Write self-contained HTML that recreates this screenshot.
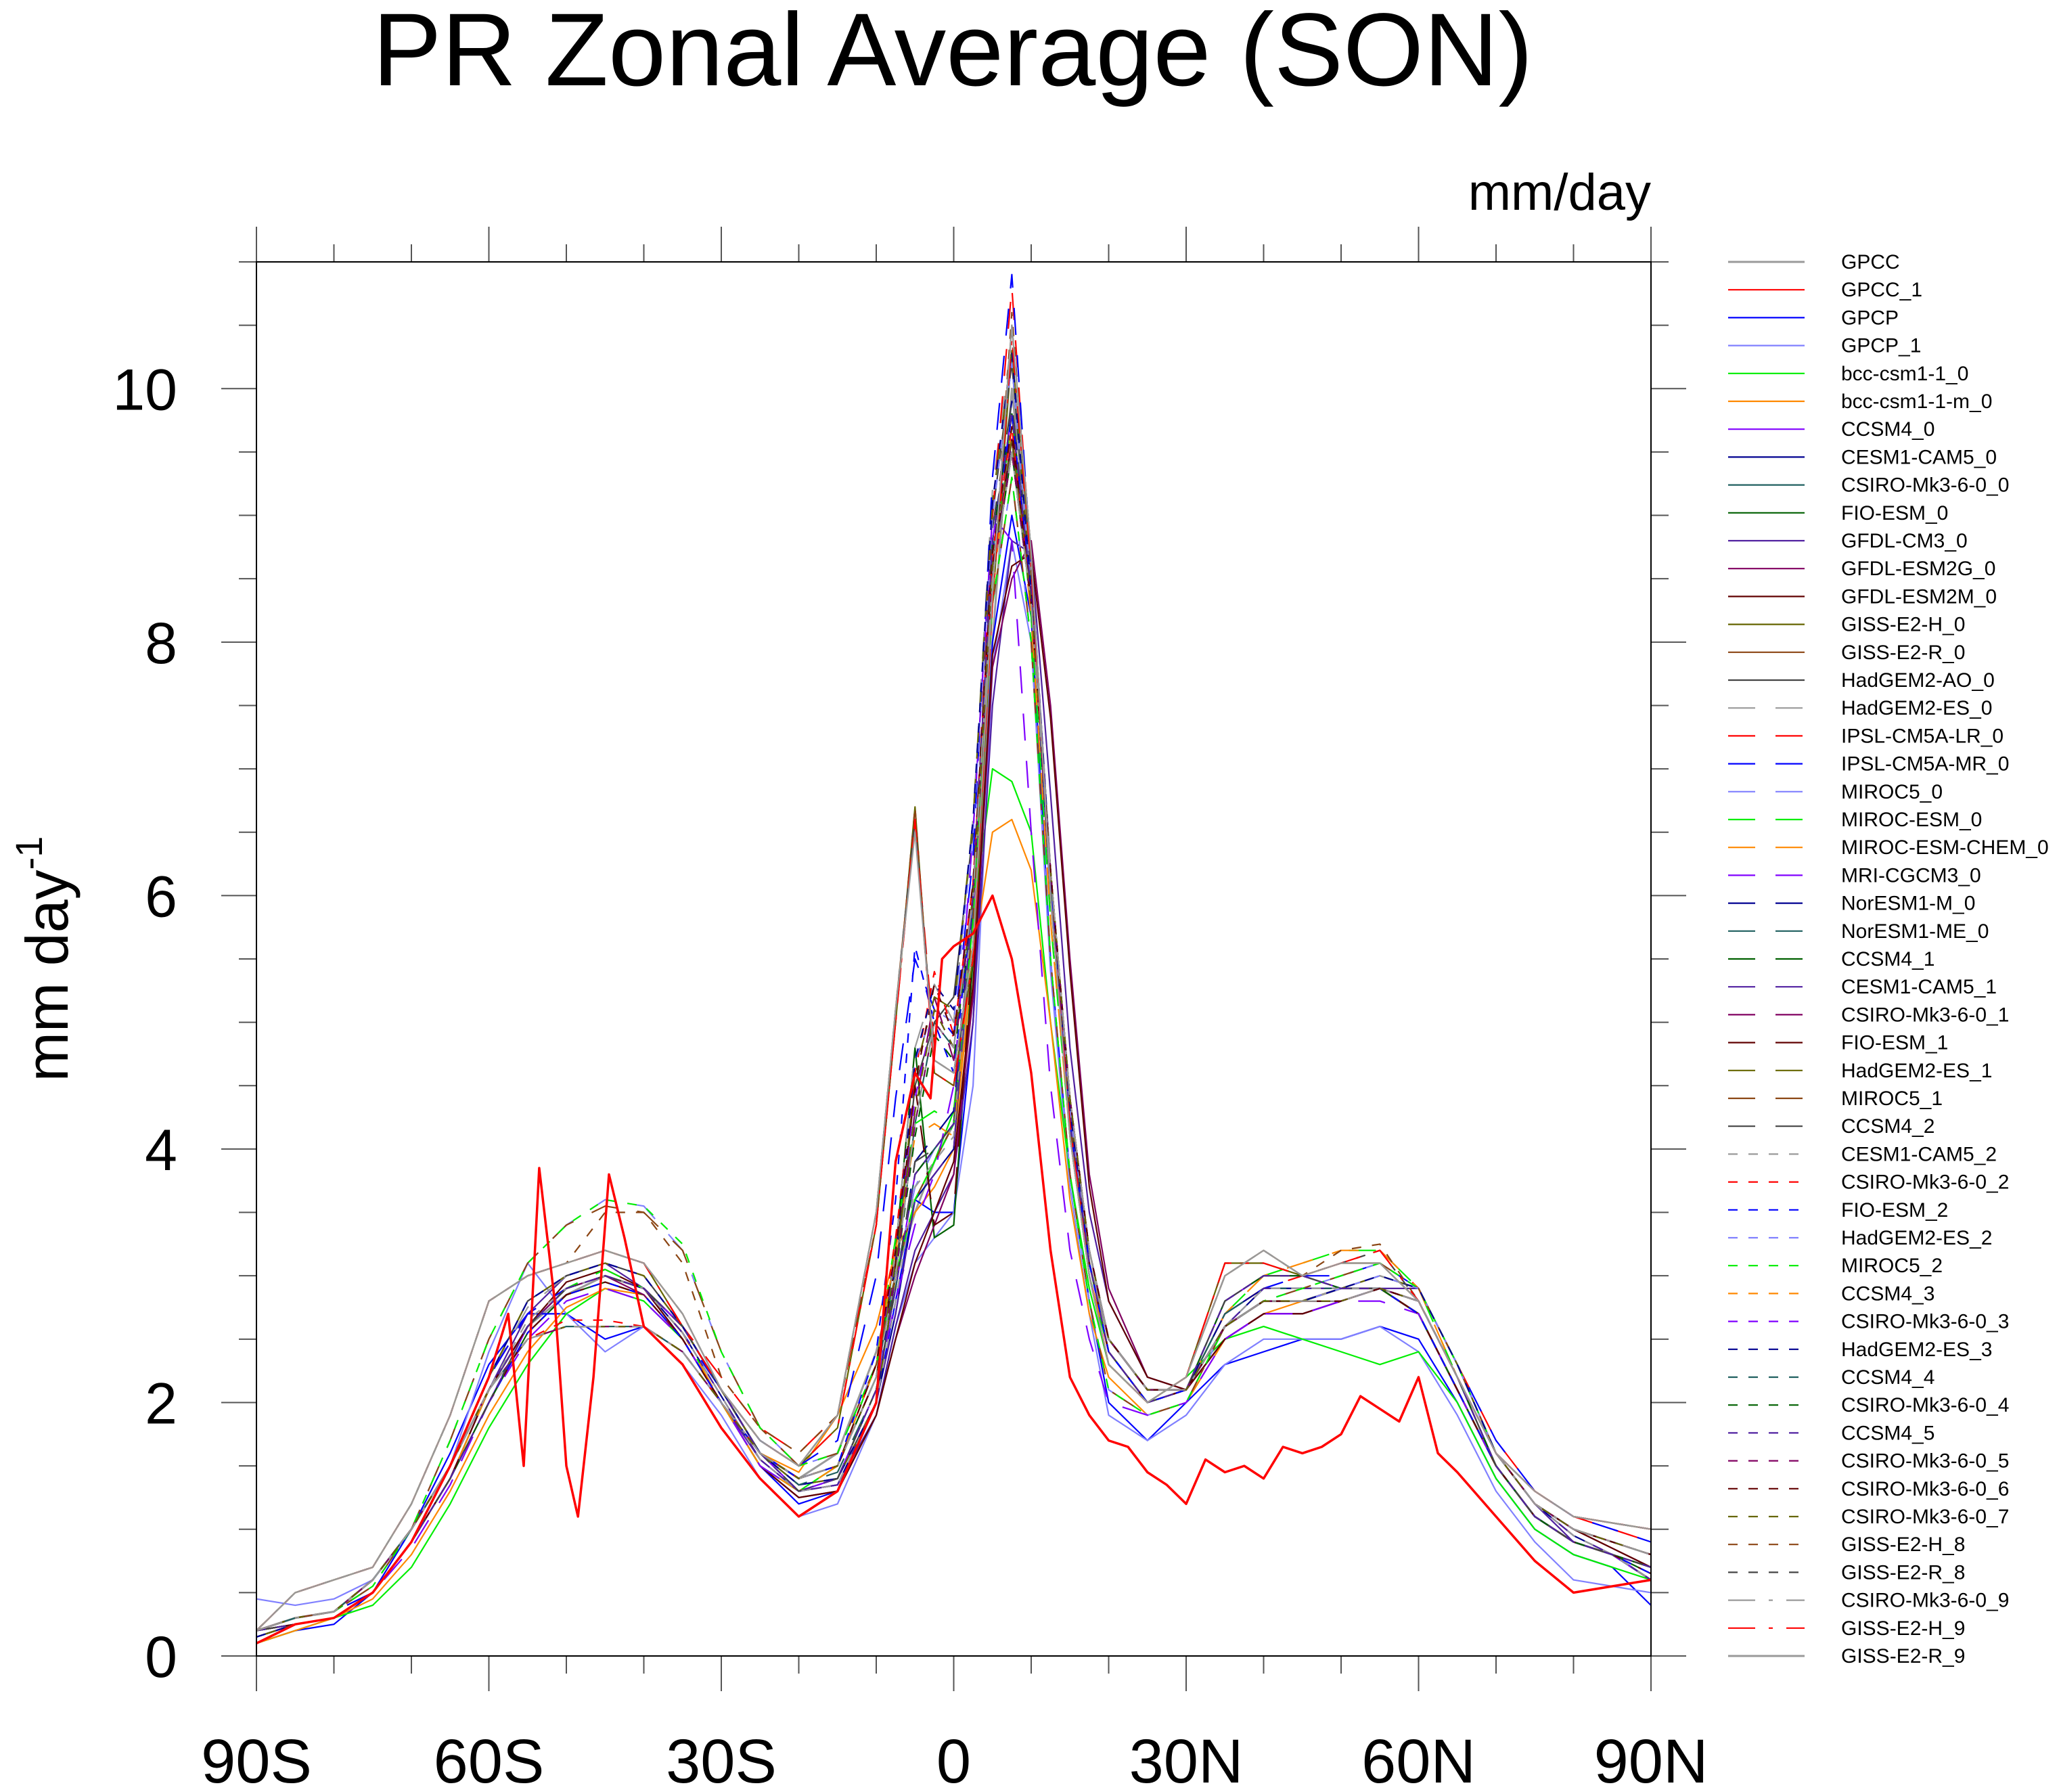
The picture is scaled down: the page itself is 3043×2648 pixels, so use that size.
<!DOCTYPE html>
<html><head><meta charset="utf-8"><style>
html,body{margin:0;padding:0;background:#fff}
svg{display:block}
text{font-family:"Liberation Sans",Arial,sans-serif;fill:#000}
</style></head><body>
<svg id="chart" width="3043" height="2648" viewBox="0 0 3043 2648" xmlns="http://www.w3.org/2000/svg">
<text x="1408" y="126" font-size="153" text-anchor="middle">PR Zonal Average (SON)</text>
<text x="2440" y="310" font-size="76" text-anchor="end">mm/day</text>
<text transform="translate(100,1417) rotate(-90)" font-size="88" text-anchor="middle">mm day<tspan font-size="56" dy="-38">-1</tspan></text>
<g id="ticks"></g>
<g id="series"></g>
<rect x="379" y="387" width="2061" height="2060" fill="none" stroke="#000" stroke-width="2"/>
<g id="legend"></g>
</svg>
<script>
const lats=[-90,-85,-80,-75,-70,-65,-60,-55,-50,-45,-40,-35,-30,-25,-20,-15,-10,-7.5,-5,-2.5,0,2.5,5,7.5,10,12.5,15,17.5,20,25,30,35,40,45,50,55,60,65,70,75,80,85,90];
const seriesNames=["GPCC","GPCC_1","GPCP","GPCP_1","bcc-csm1-1_0","bcc-csm1-1-m_0","CCSM4_0","CESM1-CAM5_0","CSIRO-Mk3-6-0_0","FIO-ESM_0","GFDL-CM3_0","GFDL-ESM2G_0","GFDL-ESM2M_0","GISS-E2-H_0","GISS-E2-R_0","HadGEM2-AO_0","HadGEM2-ES_0","IPSL-CM5A-LR_0","IPSL-CM5A-MR_0","MIROC5_0","MIROC-ESM_0","MIROC-ESM-CHEM_0","MRI-CGCM3_0","NorESM1-M_0","NorESM1-ME_0","CCSM4_1","CESM1-CAM5_1","CSIRO-Mk3-6-0_1","FIO-ESM_1","HadGEM2-ES_1","MIROC5_1","CCSM4_2","CESM1-CAM5_2","CSIRO-Mk3-6-0_2","FIO-ESM_2","HadGEM2-ES_2","MIROC5_2","CCSM4_3","CSIRO-Mk3-6-0_3","HadGEM2-ES_3","CCSM4_4","CSIRO-Mk3-6-0_4","CCSM4_5","CSIRO-Mk3-6-0_5","CSIRO-Mk3-6-0_6","CSIRO-Mk3-6-0_7","GISS-E2-H_8","GISS-E2-R_8","CSIRO-Mk3-6-0_9","GISS-E2-H_9","GISS-E2-R_9"];
const latsGPCC1=[-90,-85,-80,-75,-70,-65,-60,-57.5,-55.5,-53.5,-51.5,-50,-48.5,-46.5,-44.5,-42.5,-40,-35,-30,-25,-20,-15,-10,-7.5,-5,-3,-1.5,0,2.5,5,7.5,10,12.5,15,17.5,20,22.5,25,27.5,30,32.5,35,37.5,40,42.5,45,47.5,50,52.5,55,57.5,60,62.5,65,70,75,80,85,90];
const valsGPCC1=[0.1,0.25,0.3,0.5,0.9,1.5,2.2,2.7,1.5,3.85,2.8,1.5,1.1,2.2,3.8,3.3,2.6,2.3,1.8,1.4,1.1,1.3,2.0,3.9,4.6,4.4,5.5,5.6,5.7,6.0,5.5,4.6,3.2,2.2,1.9,1.7,1.65,1.45,1.35,1.2,1.55,1.45,1.5,1.4,1.65,1.6,1.65,1.75,2.05,1.95,1.85,2.2,1.6,1.45,1.1,0.75,0.5,0.55,0.6];
const values=[
[0.2,0.3,0.35,0.6,1.0,1.5,2.1,2.6,2.85,3.0,2.9,2.6,2.1,1.6,1.4,1.6,2.4,3.0,3.5,3.9,4.2,5.5,8.0,10.0,8.5,6.0,4.2,3.1,2.5,2.1,2.1,2.6,2.8,2.8,2.9,2.9,2.7,2.1,1.5,1.1,0.9,0.8,0.6],
null,
[0.1,0.2,0.25,0.5,1.0,1.6,2.3,2.7,2.7,2.5,2.6,2.4,2.0,1.5,1.2,1.3,2.0,2.8,3.6,3.5,3.5,5.0,8.0,9.0,8.2,5.5,3.8,2.8,2.0,1.7,2.0,2.3,2.4,2.5,2.5,2.6,2.5,2.0,1.4,1.0,0.8,0.7,0.4],
[0.45,0.4,0.45,0.6,1.0,1.5,2.4,3.1,2.7,2.4,2.6,2.3,1.9,1.4,1.1,1.2,1.9,2.6,3.1,3.3,3.5,4.5,7.8,8.8,8.0,5.4,3.7,2.7,1.9,1.7,1.9,2.3,2.5,2.5,2.5,2.6,2.4,1.9,1.3,0.9,0.6,0.55,0.5],
[0.1,0.2,0.3,0.4,0.7,1.2,1.8,2.3,2.7,2.9,2.8,2.5,2.0,1.5,1.3,1.5,2.3,3.0,3.6,3.9,4.3,5.8,7.0,6.9,6.5,5.0,3.8,2.9,2.3,2.0,2.2,2.5,2.6,2.5,2.4,2.3,2.4,2.0,1.4,1.0,0.8,0.7,0.6],
[0.1,0.2,0.3,0.45,0.8,1.3,1.9,2.4,2.75,2.9,2.85,2.5,2.0,1.6,1.45,1.9,2.6,3.2,3.5,3.7,4.0,5.5,6.5,6.6,6.2,5.0,3.6,2.7,2.2,1.9,2.0,2.5,2.7,2.8,2.9,2.9,2.7,2.1,1.5,1.1,0.9,0.8,0.7],
[0.2,0.25,0.3,0.5,0.9,1.4,2.0,2.6,2.9,3.0,2.9,2.6,2.1,1.6,1.3,1.4,2.1,2.9,3.8,4.0,4.2,6.0,8.8,9.8,8.4,6.0,4.2,3.1,2.4,2.0,2.1,2.8,3.0,3.0,2.9,2.9,2.8,2.2,1.5,1.1,0.9,0.8,0.7],
[0.15,0.25,0.3,0.5,0.9,1.5,2.1,2.6,2.9,3.0,2.9,2.55,2.05,1.55,1.3,1.35,2.0,2.7,3.6,3.8,4.0,5.9,8.5,9.6,8.6,6.2,4.3,3.1,2.4,2.0,2.1,2.6,2.9,2.9,2.9,2.9,2.8,2.2,1.6,1.2,0.95,0.8,0.6],
[0.2,0.3,0.35,0.6,1.0,1.5,2.1,2.5,2.6,2.6,2.6,2.4,2.0,1.6,1.4,1.5,2.2,3.0,4.2,5.0,4.8,6.0,8.5,9.5,8.3,6.2,4.4,3.2,2.5,2.1,2.1,2.6,2.8,2.8,2.8,2.9,2.8,2.2,1.6,1.2,1.0,0.9,0.8],
[0.2,0.25,0.3,0.5,0.9,1.4,2.0,2.55,2.85,2.95,2.85,2.5,2.0,1.6,1.4,1.5,2.2,3.2,4.8,3.3,3.4,5.5,8.5,9.5,8.4,6.1,4.2,3.1,2.4,2.0,2.1,2.6,2.8,2.8,2.8,2.9,2.7,2.1,1.5,1.1,0.9,0.8,0.65],
[0.15,0.25,0.3,0.5,0.9,1.4,2.1,2.7,3.0,3.1,2.9,2.5,2.0,1.55,1.3,1.35,1.9,2.6,3.2,3.5,3.8,5.0,7.5,8.8,8.7,6.8,4.8,3.5,2.8,2.2,2.1,2.5,2.7,2.7,2.8,2.9,2.9,2.3,1.6,1.2,0.9,0.8,0.6],
[0.2,0.25,0.3,0.5,0.9,1.4,2.1,2.6,2.9,3.0,2.85,2.5,2.0,1.5,1.25,1.3,1.9,2.5,3.0,3.4,3.8,5.2,7.8,8.5,8.8,7.5,5.5,3.8,2.9,2.2,2.1,2.5,2.7,2.7,2.8,2.9,2.8,2.2,1.6,1.2,1.0,0.85,0.7],
[0.2,0.25,0.3,0.5,0.9,1.4,2.1,2.6,2.95,3.05,2.9,2.5,2.0,1.5,1.25,1.3,1.9,2.5,3.1,3.5,3.9,5.3,7.9,8.6,8.7,7.4,5.4,3.7,2.8,2.2,2.1,2.5,2.7,2.7,2.8,2.9,2.8,2.2,1.6,1.2,1.0,0.85,0.7],
[0.2,0.5,0.6,0.7,1.2,1.9,2.8,3.0,3.1,3.2,3.1,2.6,2.1,1.7,1.5,1.8,3.4,5.0,6.7,4.6,4.5,5.5,8.3,10.3,8.6,6.0,4.2,3.0,2.3,2.0,2.2,3.1,3.1,3.0,3.1,3.1,2.8,2.2,1.6,1.3,1.1,1.05,1.0],
[0.2,0.5,0.6,0.7,1.2,1.9,2.8,3.0,3.1,3.2,3.1,2.7,2.1,1.7,1.5,1.9,3.5,5.1,6.6,4.7,4.6,5.6,8.4,10.5,8.7,6.0,4.1,3.0,2.3,2.0,2.2,3.0,3.2,3.0,3.1,3.1,2.8,2.2,1.6,1.3,1.1,1.05,1.0],
[0.15,0.25,0.3,0.5,0.9,1.5,2.2,2.8,3.0,3.1,3.0,2.6,2.1,1.6,1.35,1.4,2.0,3.0,4.5,5.0,5.2,6.5,9.0,10.2,8.4,6.0,4.3,3.2,2.5,2.1,2.1,2.6,2.8,2.8,2.9,3.0,2.9,2.3,1.6,1.2,1.0,0.9,0.8],
[0.15,0.25,0.3,0.5,0.9,1.5,2.2,2.75,3.0,3.1,3.0,2.6,2.1,1.6,1.35,1.4,2.1,3.2,4.8,5.3,5.0,6.6,9.2,10.4,8.4,6.0,4.2,3.1,2.5,2.1,2.1,2.6,2.8,2.8,2.9,3.0,2.9,2.3,1.6,1.2,1.0,0.9,0.8],
[0.2,0.3,0.35,0.5,0.9,1.5,2.2,2.7,2.9,3.0,2.9,2.6,2.2,1.8,1.6,1.9,3.4,5.0,6.6,4.8,4.9,6.0,9.0,10.8,8.6,6.0,4.2,3.0,2.4,2.0,2.1,2.7,2.9,3.0,3.1,3.2,2.9,2.3,1.7,1.3,1.1,1.0,0.9],
[0.2,0.3,0.35,0.5,0.9,1.5,2.2,2.7,2.9,3.0,2.9,2.55,2.1,1.7,1.5,1.7,3.0,4.4,5.5,5.1,4.9,6.3,9.3,10.9,8.6,6.0,4.2,3.0,2.4,2.0,2.1,2.7,2.9,3.0,3.0,3.1,2.9,2.3,1.7,1.3,1.1,1.0,0.9],
[0.2,0.3,0.35,0.55,1.0,1.7,2.5,3.1,3.4,3.6,3.55,3.2,2.4,1.8,1.5,1.6,2.3,3.0,3.7,4.0,4.2,5.8,8.3,9.3,8.0,5.5,3.8,2.8,2.1,1.9,2.0,2.6,2.8,2.9,3.0,3.1,2.9,2.3,1.6,1.2,1.0,0.9,0.8],
[0.2,0.25,0.3,0.5,0.9,1.4,2.1,2.6,2.9,3.05,2.9,2.55,2.0,1.5,1.3,1.5,2.3,3.3,4.2,4.3,4.2,5.8,8.5,9.8,8.2,5.8,4.1,3.0,2.4,2.0,2.1,2.7,3.0,3.1,3.2,3.2,2.9,2.2,1.5,1.1,0.9,0.8,0.7],
[0.2,0.25,0.3,0.5,0.9,1.4,2.1,2.6,2.9,3.0,2.9,2.55,2.0,1.5,1.3,1.5,2.3,3.2,4.1,4.2,4.1,5.7,8.4,9.7,8.2,5.8,4.1,3.0,2.4,2.0,2.1,2.7,3.0,3.1,3.2,3.2,2.9,2.2,1.5,1.1,0.9,0.8,0.7],
[0.2,0.25,0.3,0.5,0.85,1.35,2.0,2.5,2.8,2.9,2.8,2.5,2.0,1.5,1.3,1.4,2.1,2.8,3.4,3.8,4.5,6.5,9.0,8.8,6.5,4.5,3.2,2.5,2.0,1.9,2.0,2.5,2.7,2.7,2.8,2.8,2.7,2.1,1.5,1.1,0.9,0.8,0.6],
[0.15,0.25,0.3,0.5,0.9,1.4,2.0,2.6,2.9,3.0,2.9,2.6,2.1,1.6,1.35,1.4,2.1,2.9,3.9,4.1,4.3,6.1,8.8,9.9,8.4,6.0,4.2,3.1,2.4,2.0,2.1,2.7,2.9,2.9,2.9,2.9,2.8,2.2,1.5,1.1,0.9,0.8,0.7],
[0.15,0.25,0.3,0.5,0.9,1.4,2.0,2.6,2.9,3.0,2.9,2.6,2.1,1.6,1.35,1.45,2.1,2.9,3.8,4.0,4.2,6.0,8.7,9.8,8.4,6.1,4.2,3.1,2.4,2.0,2.1,2.7,2.9,2.9,2.9,2.9,2.8,2.2,1.5,1.1,0.9,0.8,0.7],
[0.2,0.25,0.3,0.5,0.9,1.4,2.0,2.6,2.9,3.0,2.9,2.6,2.1,1.6,1.3,1.4,2.1,2.9,3.8,4.0,4.2,6.0,8.8,9.8,8.4,6.0,4.2,3.1,2.4,2.0,2.1,2.8,3.0,3.0,2.9,2.9,2.8,2.2,1.5,1.1,0.9,0.8,0.7],
[0.15,0.25,0.3,0.5,0.9,1.5,2.1,2.6,2.9,3.0,2.9,2.55,2.05,1.55,1.3,1.35,2.0,2.7,3.6,3.8,4.0,5.9,8.5,9.6,8.6,6.2,4.3,3.1,2.4,2.0,2.1,2.6,2.9,2.9,2.9,2.9,2.8,2.2,1.6,1.2,0.95,0.8,0.6],
[0.2,0.3,0.35,0.6,1.0,1.5,2.1,2.5,2.6,2.6,2.6,2.4,2.0,1.6,1.4,1.5,2.2,3.1,4.3,5.2,4.7,6.0,8.6,9.6,8.3,6.2,4.4,3.2,2.5,2.1,2.1,2.6,2.8,2.8,2.8,2.9,2.8,2.2,1.6,1.2,1.0,0.9,0.8],
[0.2,0.25,0.3,0.5,0.9,1.4,2.0,2.55,2.85,2.95,2.85,2.5,2.0,1.6,1.4,1.5,2.2,3.1,4.5,3.4,3.5,5.6,8.6,9.6,8.4,6.1,4.2,3.1,2.4,2.0,2.1,2.6,2.8,2.8,2.8,2.9,2.7,2.1,1.5,1.1,0.9,0.8,0.65],
[0.15,0.25,0.3,0.5,0.9,1.5,2.2,2.8,3.0,3.1,3.0,2.6,2.1,1.6,1.35,1.4,2.0,3.0,4.6,5.2,5.1,6.6,9.1,10.3,8.4,6.0,4.3,3.2,2.5,2.1,2.1,2.6,2.8,2.8,2.9,3.0,2.9,2.3,1.6,1.2,1.0,0.9,0.8],
[0.2,0.3,0.35,0.55,1.0,1.7,2.5,3.1,3.4,3.55,3.5,3.2,2.4,1.8,1.5,1.6,2.3,3.0,3.6,3.9,4.2,5.8,8.3,9.3,8.0,5.5,3.8,2.8,2.1,1.9,2.0,2.6,2.8,2.9,3.0,3.1,2.9,2.3,1.6,1.2,1.0,0.9,0.8],
[0.2,0.25,0.3,0.5,0.9,1.4,2.0,2.6,2.9,3.0,2.9,2.6,2.1,1.6,1.3,1.4,2.1,2.9,3.9,4.0,4.2,6.0,8.9,9.9,8.4,6.0,4.2,3.1,2.4,2.0,2.1,2.8,3.0,3.0,2.9,2.9,2.8,2.2,1.5,1.1,0.9,0.8,0.7],
[0.15,0.25,0.3,0.5,0.9,1.5,2.1,2.65,2.9,3.0,2.9,2.55,2.05,1.55,1.3,1.35,2.0,2.8,3.7,3.9,4.1,6.0,8.6,9.7,8.6,6.2,4.3,3.1,2.4,2.0,2.1,2.6,2.9,2.9,2.9,2.9,2.8,2.2,1.6,1.2,0.95,0.8,0.6],
[0.2,0.3,0.35,0.6,1.0,1.5,2.1,2.5,2.65,2.65,2.6,2.4,2.0,1.6,1.4,1.5,2.3,3.3,4.6,5.4,4.9,6.1,8.7,9.7,8.3,6.2,4.4,3.2,2.5,2.1,2.1,2.6,2.8,2.8,2.8,2.9,2.8,2.2,1.6,1.2,1.0,0.9,0.8],
[0.2,0.25,0.3,0.5,0.9,1.4,2.0,2.55,2.85,2.95,2.85,2.5,2.0,1.6,1.4,1.5,2.4,3.6,5.6,5.0,4.6,6.0,8.7,9.8,8.4,6.1,4.2,3.1,2.4,2.0,2.1,2.6,2.8,2.8,2.8,2.9,2.7,2.1,1.5,1.1,0.9,0.8,0.65],
[0.15,0.25,0.3,0.5,0.9,1.5,2.2,2.8,3.0,3.1,3.0,2.6,2.1,1.6,1.35,1.4,2.1,3.1,4.7,5.1,5.0,6.5,9.0,10.2,8.4,6.0,4.3,3.2,2.5,2.1,2.1,2.6,2.8,2.8,2.9,3.0,2.9,2.3,1.6,1.2,1.0,0.9,0.8],
[0.2,0.3,0.35,0.55,1.0,1.7,2.5,3.1,3.4,3.6,3.55,3.25,2.4,1.8,1.5,1.6,2.3,3.0,3.6,3.9,4.2,5.8,8.3,9.3,8.0,5.5,3.8,2.8,2.1,1.9,2.0,2.6,2.8,2.9,3.0,3.1,2.9,2.3,1.6,1.2,1.0,0.9,0.8],
[0.2,0.25,0.3,0.5,0.9,1.4,2.0,2.6,2.9,3.0,2.9,2.6,2.1,1.6,1.3,1.4,2.1,2.9,3.8,4.0,4.2,6.0,8.8,9.8,8.4,6.0,4.2,3.1,2.4,2.0,2.1,2.8,3.0,3.0,2.9,2.9,2.8,2.2,1.5,1.1,0.9,0.8,0.7],
[0.2,0.3,0.35,0.6,1.0,1.5,2.1,2.5,2.6,2.6,2.6,2.4,2.0,1.6,1.4,1.5,2.2,3.2,4.4,5.1,4.8,6.0,8.6,9.6,8.3,6.2,4.4,3.2,2.5,2.1,2.1,2.6,2.8,2.8,2.8,2.9,2.8,2.2,1.6,1.2,1.0,0.9,0.8],
[0.15,0.25,0.3,0.5,0.9,1.5,2.2,2.8,3.0,3.1,3.0,2.6,2.1,1.6,1.35,1.4,2.0,3.1,4.7,5.3,5.1,6.6,9.1,10.3,8.4,6.0,4.3,3.2,2.5,2.1,2.1,2.6,2.8,2.8,2.9,3.0,2.9,2.3,1.6,1.2,1.0,0.9,0.8],
[0.2,0.25,0.3,0.5,0.9,1.4,2.0,2.6,2.9,3.0,2.9,2.6,2.1,1.6,1.3,1.4,2.1,2.9,3.8,4.0,4.2,6.0,8.8,9.8,8.4,6.0,4.2,3.1,2.4,2.0,2.1,2.8,3.0,3.0,2.9,2.9,2.8,2.2,1.5,1.1,0.9,0.8,0.7],
[0.2,0.3,0.35,0.6,1.0,1.5,2.1,2.5,2.6,2.6,2.6,2.4,2.0,1.6,1.4,1.5,2.2,3.0,4.1,4.9,4.7,6.0,8.5,9.5,8.3,6.2,4.4,3.2,2.5,2.1,2.1,2.6,2.8,2.8,2.8,2.9,2.8,2.2,1.6,1.2,1.0,0.9,0.8],
[0.2,0.25,0.3,0.5,0.9,1.4,2.0,2.6,2.9,3.0,2.9,2.6,2.1,1.6,1.3,1.4,2.1,2.9,3.8,4.0,4.2,6.0,8.8,9.8,8.4,6.0,4.2,3.1,2.4,2.0,2.1,2.8,3.0,3.0,2.9,2.9,2.8,2.2,1.5,1.1,0.9,0.8,0.7],
[0.2,0.3,0.35,0.6,1.0,1.5,2.1,2.5,2.6,2.6,2.6,2.4,2.0,1.6,1.4,1.5,2.2,3.0,4.2,5.0,4.8,6.0,8.5,9.5,8.3,6.2,4.4,3.2,2.5,2.1,2.1,2.6,2.8,2.8,2.8,2.9,2.8,2.2,1.6,1.2,1.0,0.9,0.8],
[0.2,0.3,0.35,0.6,1.0,1.5,2.1,2.5,2.6,2.6,2.6,2.4,2.0,1.6,1.4,1.5,2.3,3.2,4.5,5.3,4.9,6.1,8.7,9.7,8.3,6.2,4.4,3.2,2.5,2.1,2.1,2.6,2.8,2.8,2.8,2.9,2.8,2.2,1.6,1.2,1.0,0.9,0.8],
[0.2,0.3,0.35,0.6,1.0,1.5,2.1,2.5,2.6,2.6,2.6,2.4,2.0,1.6,1.4,1.5,2.2,3.1,4.3,5.1,4.8,6.0,8.6,9.6,8.3,6.2,4.4,3.2,2.5,2.1,2.1,2.6,2.8,2.8,2.8,2.9,2.8,2.2,1.6,1.2,1.0,0.9,0.8],
[0.2,0.5,0.6,0.7,1.2,1.9,2.8,3.0,3.1,3.5,3.5,3.1,2.2,1.8,1.6,1.9,3.4,5.0,6.7,4.6,4.5,5.6,8.4,10.6,8.6,6.0,4.2,3.0,2.3,2.0,2.2,3.1,3.1,3.0,3.2,3.25,2.8,2.2,1.6,1.3,1.1,1.05,1.0],
[0.2,0.5,0.6,0.7,1.2,1.9,2.8,3.0,3.1,3.2,3.1,2.7,2.1,1.7,1.5,1.9,3.5,5.1,6.6,4.7,4.6,5.6,8.4,10.5,8.7,6.0,4.1,3.0,2.3,2.0,2.2,3.0,3.2,3.0,3.1,3.2,2.8,2.2,1.6,1.3,1.1,1.05,1.0],
[0.2,0.3,0.35,0.6,1.0,1.5,2.1,2.5,2.6,2.6,2.6,2.4,2.0,1.6,1.4,1.5,2.2,3.0,4.2,5.0,4.8,6.0,8.5,9.5,8.3,6.2,4.4,3.2,2.5,2.1,2.1,2.6,2.8,2.8,2.8,2.9,2.8,2.2,1.6,1.2,1.0,0.9,0.8],
[0.2,0.5,0.6,0.7,1.2,1.9,2.8,3.0,3.1,3.2,3.1,2.6,2.1,1.7,1.5,1.8,3.4,5.0,6.6,4.6,4.5,5.5,8.3,10.4,8.6,6.0,4.2,3.0,2.3,2.0,2.2,3.1,3.1,3.0,3.1,3.2,2.8,2.2,1.6,1.3,1.1,1.05,1.0],
[0.2,0.5,0.6,0.7,1.2,1.9,2.8,3.0,3.1,3.2,3.1,2.7,2.1,1.7,1.5,1.9,3.5,5.1,6.5,4.7,4.6,5.6,8.4,10.5,8.7,6.0,4.1,3.0,2.3,2.0,2.2,3.0,3.2,3.0,3.1,3.1,2.8,2.2,1.6,1.3,1.1,1.05,1.0]
];
const yTicks=[0,2,4,6,8,10];
const xTickVals=[-90,-60,-30,0,30,60,90];
const xTickLabels=["90S","60S","30S","0","30N","60N","90N"];

const X0=379,X1=2440,Y0=2447,Y1=387,YMAX=11;
function sx(lat){return X0+(lat+90)/180*(X1-X0);}
function sy(v){return Y0-v/YMAX*(Y0-Y1);}
const NS="http://www.w3.org/2000/svg";
function mk(tag,attrs,parent){const e=document.createElementNS(NS,tag);for(const k in attrs)e.setAttribute(k,attrs[k]);parent.appendChild(e);return e;}
const colors=["#9a9a9a","#ff0000","#0000ff","#8080ff","#00ee00","#ff8800","#8000ff","#000090","#1f5f5f","#006000","#5020a0","#800060","#600000","#666600","#8b4513","#444444"];
const dashes=["","40,30","14,16","40,20,6,20"];
function styleOf(i){
  let c=colors[i%16],d=dashes[Math.min(3,Math.floor(i/16))];
  if(i===50){c="#9a9a9a";d="";}
  return {c:c,d:d,w:(i===1?3.5:(i===0?3:2.2))};
}
const ticks=document.getElementById('ticks');
for(let v=0;v<=11.0001;v+=0.5){
  const major=Math.abs(v/2-Math.round(v/2))<1e-6;
  const L=major?52:26;const y=sy(v);
  const t1=mk('line',{x1:X0-L,y1:y,x2:X0,y2:y,stroke:'#555','stroke-width':2},ticks);
  
  
  const t2=mk('line',{x1:X1,y1:y,x2:X1+L,y2:y,stroke:'#555','stroke-width':2},ticks);
  
  
}
yTicks.forEach(v=>{
  const t=mk('text',{x:262,y:sy(v)+31,'font-size':86,'text-anchor':'end'},ticks);
  t.textContent=String(v);
  
  
});
for(let lat=-90;lat<=90;lat+=10){
  const major=lat%30===0;const L=major?52:26;const x=sx(lat);
  const a=mk('line',{x1:x,y1:Y1-L,x2:x,y2:Y1,stroke:'#555','stroke-width':2},ticks);
  
  
  const b=mk('line',{x1:x,y1:Y0,x2:x,y2:Y0+L,stroke:'#555','stroke-width':2},ticks);
  
  
}
xTickVals.forEach((v,i)=>{
  const t=mk('text',{x:sx(v),y:2634,'font-size':92,'text-anchor':'middle'},ticks);
  t.textContent=xTickLabels[i];
  
  
});
const sg=document.getElementById('series');
function drawLine(latArr,valArr,i){
  const s=styleOf(i);
  const pts=latArr.map((l,k)=>sx(l).toFixed(1)+','+sy(valArr[k]).toFixed(1)).join(' ');
  const p=mk('polyline',{points:pts,fill:'none',stroke:s.c,'stroke-width':s.w,'stroke-linejoin':'round'},sg);
  if(s.d)p.setAttribute('stroke-dasharray',s.d);
  
  
}
values.forEach((row,i)=>{ if(row) drawLine(lats,row,i); });
drawLine(latsGPCC1,valsGPCC1,1);
const lg=document.getElementById('legend');
seriesNames.forEach((n,i)=>{
  const s=styleOf(i);const y=387+i*41.2;
  const l=mk('line',{x1:2554,y1:y,x2:2667,y2:y,stroke:s.c,'stroke-width':(i===0||i===50)?3:2.2},lg);
  if(s.d)l.setAttribute('stroke-dasharray',s.d);
  
  
  const t=mk('text',{x:2721,y:y+10,'font-size':30},lg);
  t.textContent=n;
  
  
});
</script>
</body></html>
